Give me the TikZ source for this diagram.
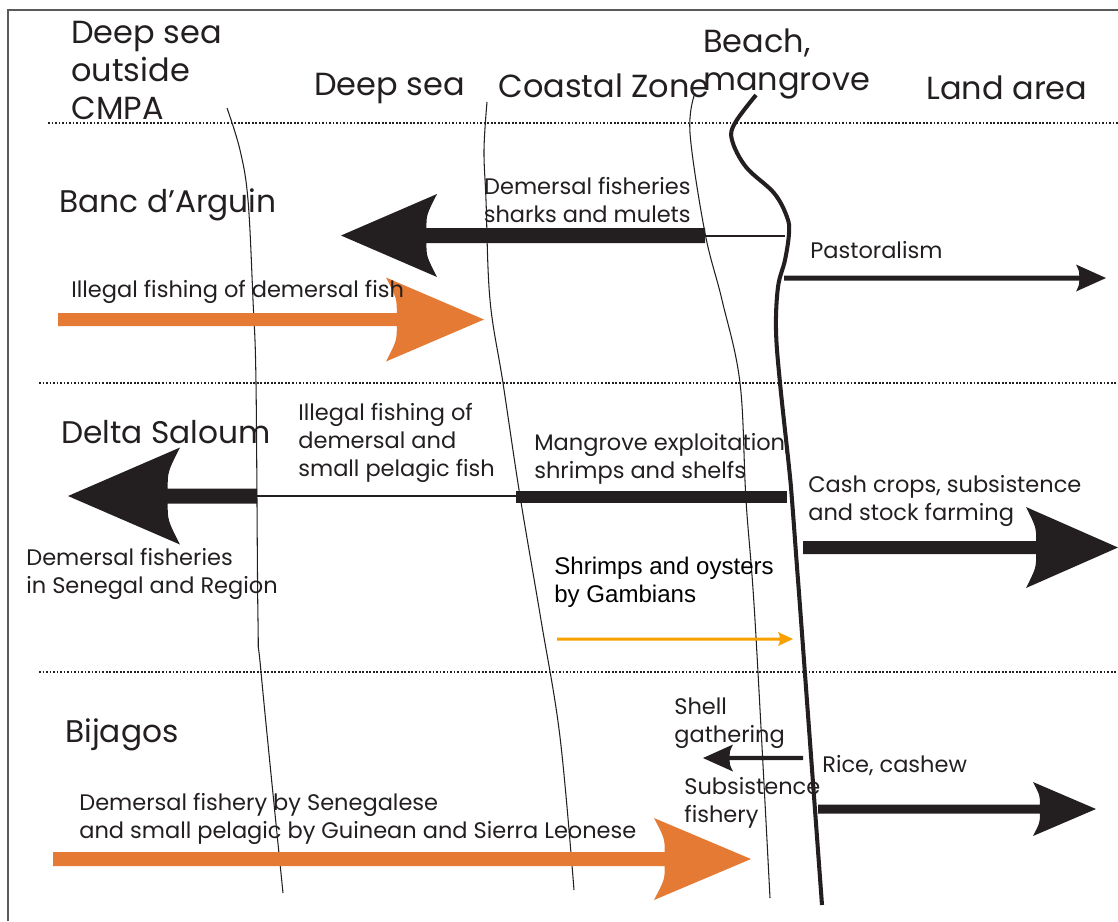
\documentclass[tikz,border=0pt]{standalone}
\usepackage{fontspec}
\setmainfont{Poppins}
\newfontfamily\arialfont{Liberation Sans}
\usetikzlibrary{calc}
\definecolor{inkblack}{HTML}{231F20}
\definecolor{fishorange}{HTML}{E57A35}
\definecolor{lightorange}{HTML}{F7A000}
\definecolor{framegray}{HTML}{5A5A5A}
% fat arrow: colour, start x, tip x, y, half shaft, head length, half head
\newcommand{\fatarrow}[7]{
  \pgfmathsetmacro{\arrdir}{sign(#3-#2)}
  \pgfmathsetmacro{\arrbarb}{#3-\arrdir*#6}
  \pgfmathsetmacro{\arrnotch}{\arrbarb+\arrdir*0.11*#6}
  \fill[#1] (#2,#4-#5) -- (\arrnotch,#4-#5) .. controls (\arrnotch,#4-0.5*#7) .. (\arrbarb,#4-#7)
    -- (#3,#4) -- (\arrbarb,#4+#7) .. controls (\arrnotch,#4+0.5*#7) .. (\arrnotch,#4+#5)
    -- (#2,#4+#5) -- cycle;}
\tikzset{
  zonehead/.style={anchor=base west, inner sep=0pt, align=left, text=inkblack,
    font=\fontsize{18.2}{21.5}\selectfont},
  sitelabel/.style={anchor=base west, inner sep=0pt, text=inkblack,
    font=\fontsize{17.8}{20}\selectfont},
  uselabel/.style={anchor=base west, inner sep=0pt, align=left, text=inkblack,
    font=\fontsize{12.8}{15.9}\selectfont},
  zoneline/.style={inkblack, line width=0.6pt},
  beachline/.style={inkblack, line width=2.3pt},
  rowsep/.style={inkblack, line width=1pt, dash pattern=on 1pt off 1pt},
}
\begin{document}
\begin{tikzpicture}[x=0.02cm, y=-0.02cm]
\useasboundingbox (0,0) rectangle (1118,921);
% frame
\draw[framegray, line width=0.8pt] (8,921) -- (8,10) -- (1118,10);
% zone headings (multi-line nodes sit on their last line)
\node[zonehead] (outside) at (71,119) {Deep sea\\outside\\CMPA};
\node[zonehead] (deepsea) at (314,95) {Deep sea};
\node[zonehead] (coastal) at (498,97) {Coastal Zone};
\node[zonehead] (beach) at (703,90) {Beach,\\mangrove};
\node[zonehead] (land) at (926,99) {Land area};
% row separators
\draw[rowsep] (48,123) -- (1118,123);
\draw[rowsep] (39,383) -- (1118,383);
\draw[rowsep] (39,672) -- (1118,672);
% zone boundaries
\draw[zoneline] plot[smooth, tension=0.6] coordinates
  {(227,108) (240,150) (248,200) (253,300) (256,383) (258,620) (261,672) (283,893)};
\draw[zoneline] plot[smooth, tension=0.6] coordinates
  {(487,102) (484,150) (486,200) (490,300) (503,383) (520,496) (541,620) (560,737) (574,890)};
\draw[zoneline] plot[smooth, tension=0.6] coordinates
  {(695,93) (690,133) (705,233) (722,300) (740,383) (746,500) (755,620) (770,898)};
\draw[beachline] plot[smooth, tension=0.6] coordinates
  {(756,95) (735,123) (732,140) (746,167) (774,193) (787,217) (789,233) (785,260)
   (778,287) (776,330) (780,383) (789,467) (792,500) (797,567) (801,620) (822,905)};
% Banc d'Arguin
\node[sitelabel] (banc) at (59,212) {Banc d’Arguin};
\node[uselabel, anchor=base east, align=right] (demfish) at (691,222) {Demersal fisheries\\sharks and mulets};
\fatarrow{inkblack}{705}{341}{235.5}{7.5}{96}{41.5}
\draw[inkblack, line width=0.8pt] (705,236) -- (785,236);
\fatarrow{fishorange}{58}{484}{319.5}{6.5}{98}{42}
\node[uselabel] (illegal) at (71,297) {Illegal fishing of demersal fish};
\node[uselabel] (pastoral) at (810,258) {Pastoralism};
\fatarrow{inkblack}{784}{1106}{278}{2.5}{30}{13.5}
% Delta Saloum
\node[sitelabel] (delta) at (61,443) {Delta Saloum};
\node[uselabel] (pelagic) at (298,476) {Illegal fishing of\\demersal and\\small pelagic fish};
\node[uselabel] (mangrove) at (534,478) {Mangrove exploitation,\\shrimps and shelfs};
\fatarrow{inkblack}{257}{68}{496}{7.5}{112}{48.5}
\draw[inkblack, line width=1.2pt] (257,496) -- (516,496);
\draw[inkblack, line width=6.8pt] (516,497) -- (787,497);
\node[uselabel] (senegal) at (26,593) {Demersal fisheries\\in Senegal and Region};
\node[uselabel] (cash) at (808,520) {Cash crops, subsistence\\and stock farming};
\fatarrow{inkblack}{803}{1118}{547.5}{6.5}{92}{40.5}
\node[uselabel, font=\arialfont\fontsize{13.7}{15.4}\selectfont, text=black] (gambia) at (554,602) {Shrimps and oysters\\by Gambians};
\fatarrow{lightorange}{557}{793}{639}{1.5}{15}{7}
% Bijagos
\node[sitelabel] (bijagos) at (65,742) {Bijagos};
\node[uselabel] (shell) at (674,742) {Shell\\gathering};
\fatarrow{inkblack}{803}{703}{758}{2.2}{30}{13.5}
\node[uselabel] (subsist) at (684,822) {Subsistence\\fishery};
\node[uselabel] (rice) at (822,772) {Rice, cashew};
\fatarrow{inkblack}{818}{1096}{809}{4.5}{63}{27}
\fatarrow{fishorange}{53}{751}{859}{7}{97}{41}
\node[uselabel] (sierra) at (79,838) {Demersal fishery by Senegalese\\and small pelagic by Guinean and Sierra Leonese};
\end{tikzpicture}
\end{document}
